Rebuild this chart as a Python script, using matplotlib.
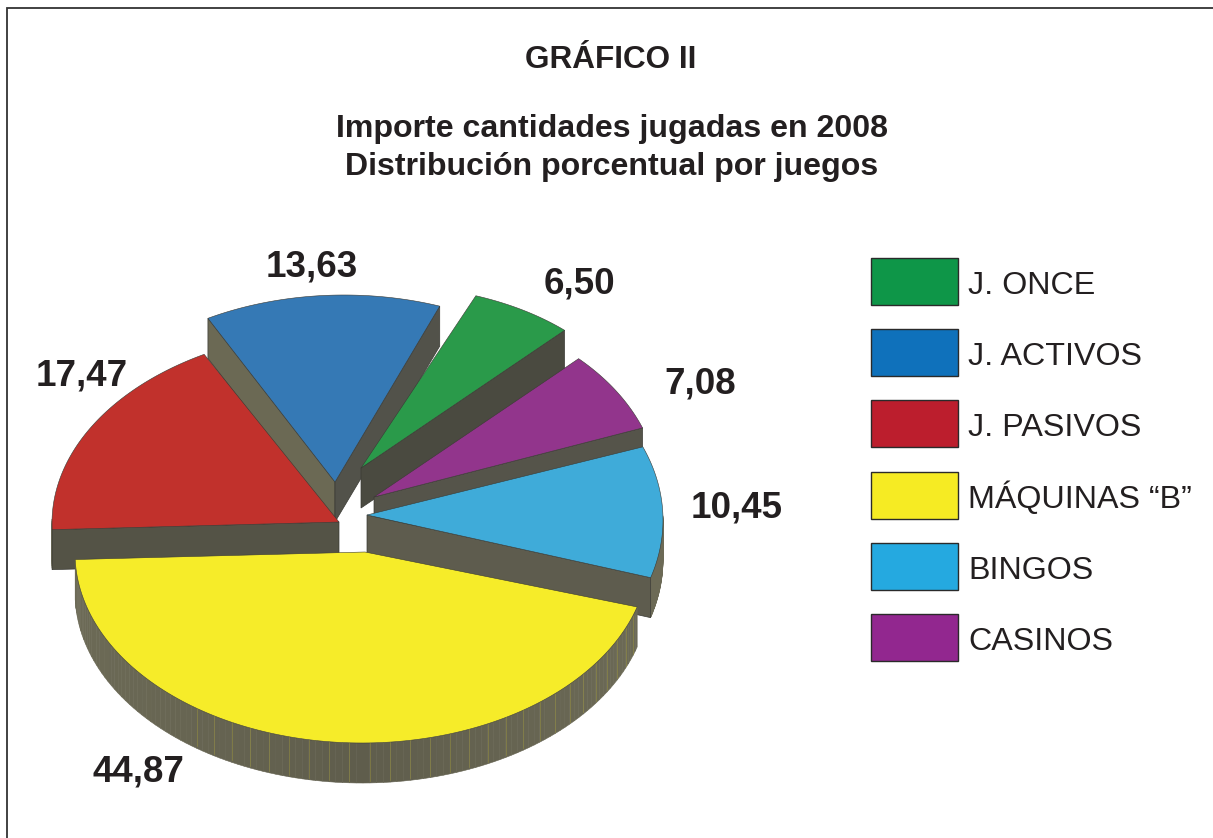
import numpy as np
import matplotlib
matplotlib.use('Agg')
import matplotlib.pyplot as plt
from matplotlib.patches import Polygon, Rectangle

plt.rcParams['font.family'] = ['Liberation Sans', 'DejaVu Sans']

# data, in the clockwise order of the pie starting from the yellow slice
juegos = ['MÁQUINAS “B”', 'J. PASIVOS', 'J. ACTIVOS', 'J. ONCE', 'CASINOS', 'BINGOS']
valores = [44.87, 17.47, 13.63, 6.50, 7.08, 10.45]

# legend order, top to bottom
orden_leyenda = ['J. ONCE', 'J. ACTIVOS', 'J. PASIVOS', 'MÁQUINAS “B”', 'BINGOS', 'CASINOS']

# slice styles
color_top = {'MÁQUINAS “B”': '#f6ec29', 'J. PASIVOS': '#c1312c', 'J. ACTIVOS': '#3579b5',
             'J. ONCE': '#2a9a4a', 'CASINOS': '#92358c', 'BINGOS': '#3fabd9'}
color_ley = {'MÁQUINAS “B”': '#f6eb23', 'J. PASIVOS': '#bc1e2d', 'J. ACTIVOS': '#0f71bb',
             'J. ONCE': '#0e9648', 'CASINOS': '#92278f', 'BINGOS': '#25a9e0'}
# tip of each exploded slice
punta = {'MÁQUINAS “B”': (365, 552), 'J. PASIVOS': (339, 522), 'J. ACTIVOS': (335, 482),
         'J. ONCE': (361, 468), 'CASINOS': (374, 497), 'BINGOS': (367, 515)}
# ellipse of each slice (cx, cy, rx, ry), perspective moves it away from the tip
elipse = {'MÁQUINAS “B”': (362, 553, 287, 190), 'J. PASIVOS': (348, 523, 296, 193),
          'J. ACTIVOS': (344, 480, 280, 185), 'J. ONCE': (388, 448, 257, 162),
          'CASINOS': (400, 496, 260, 189), 'BINGOS': (363, 520, 300, 203)}
# colour of the visible cut faces (start edge, end edge), None when hidden
color_cara = {'MÁQUINAS “B”': (None, None), 'J. PASIVOS': ('#545346', None),
              'J. ACTIVOS': ('#6b6954', '#52524a'), 'J. ONCE': (None, '#4a4a40'),
              'CASINOS': (None, '#55544a'), 'BINGOS': (None, '#5e5c4e')}
# label anchor (centre x, baseline y)
pos_valor = {'MÁQUINAS “B”': (138, 781), 'J. PASIVOS': (82, 385), 'J. ACTIVOS': (312, 276),
             'J. ONCE': (579, 293), 'CASINOS': (700, 393), 'BINGOS': (737, 517)}

alto = 40
inicio = 16.5

fig = plt.figure(figsize=(12.13, 8.38), dpi=100)
ax = fig.add_axes([0, 0, 1, 1])
ax.set_xlim(0, 1213)
ax.set_ylim(838, 0)
ax.axis('off')

# frame, only top and left
ax.plot([1213, 7, 7], [8, 8, 838], color='#333333', lw=1.3, solid_joinstyle='miter')

# angles of every slice from the values
limites = {}
a = inicio
for nombre, v in zip(juegos, valores):
    limites[nombre] = (a, a + v / 100 * 360)
    a += v / 100 * 360


def borde(nombre, n=120):
    t = np.radians(np.linspace(limites[nombre][0], limites[nombre][1], n))
    cx, cy, rx, ry = elipse[nombre]
    return cx + rx * np.cos(t), cy + ry * np.sin(t), t


def dibuja(nombre):
    x, y, t = borde(nombre)
    cx, cy = punta[nombre]
    # rim, only the part turned to the viewer
    for i in range(len(t) - 1):
        if np.sin(t[i]) > -0.02 or np.sin(t[i + 1]) > -0.02:
            f = min(1, abs(np.cos(t[i])))
            c = np.array([0x5f, 0x5d, 0x4c]) * (1 - f) + np.array([0x6c, 0x6a, 0x56]) * f
            ax.add_patch(Polygon([(x[i], y[i]), (x[i + 1], y[i + 1]),
                                  (x[i + 1], y[i + 1] + alto), (x[i], y[i] + alto)],
                                 closed=True, fc=c / 255, ec=c / 255, lw=0.4))
    # thin yellow seams on the big slice
    if nombre == 'MÁQUINAS “B”':
        for i in range(2, len(t), 3):
            if x[i] > 185:
                ax.plot([x[i], x[i]], [y[i], y[i] + alto - 2], color='#a8a03a', lw=0.5, alpha=0.55)
    # cut faces
    if color_cara[nombre][0]:
        ax.add_patch(Polygon([(cx, cy), (x[0], y[0]), (x[0], y[0] + alto), (cx, cy + alto)],
                             closed=True, fc=color_cara[nombre][0], ec='#3a3a34', lw=0.5))
    if color_cara[nombre][1]:
        ax.add_patch(Polygon([(cx, cy), (x[-1], y[-1]), (x[-1], y[-1] + alto), (cx, cy + alto)],
                             closed=True, fc=color_cara[nombre][1], ec='#3a3a34', lw=0.5))
    # top face
    ax.add_patch(Polygon(np.column_stack([np.r_[cx, x], np.r_[cy, y]]), closed=True,
                         fc=color_top[nombre], ec='#3a3a34', lw=0.4))


# back slices first
for nombre in ['J. ACTIVOS', 'J. ONCE', 'CASINOS', 'BINGOS', 'J. PASIVOS', 'MÁQUINAS “B”']:
    dibuja(nombre)

# value labels
for nombre, v in zip(juegos, valores):
    px, py = pos_valor[nombre]
    ax.text(px, py, f'{v:.2f}'.replace('.', ','), ha='center', va='baseline',
            fontsize=26.5, fontweight='bold', color='#231f20')

# titles
ax.text(611, 68, 'GRÁFICO II', ha='center', va='baseline', fontsize=22.7, fontweight='bold', color='#231f20')
ax.text(612, 137, 'Importe cantidades jugadas en 2008', ha='center', va='baseline',
        fontsize=23.1, fontweight='bold', color='#231f20')
ax.text(612, 175, 'Distribución porcentual por juegos', ha='center', va='baseline',
        fontsize=23.1, fontweight='bold', color='#231f20')

# legend
for i, nombre in enumerate(orden_leyenda):
    y0 = 258 + i * 71.2
    ax.add_patch(Rectangle((871, y0), 87, 47, fc=color_ley[nombre], ec='#2a2a2a', lw=1))
    ax.text(968, y0 + 36, nombre, ha='left', va='baseline', fontsize=23.2, color='#231f20')

fig.savefig('out.png', dpi=100)
